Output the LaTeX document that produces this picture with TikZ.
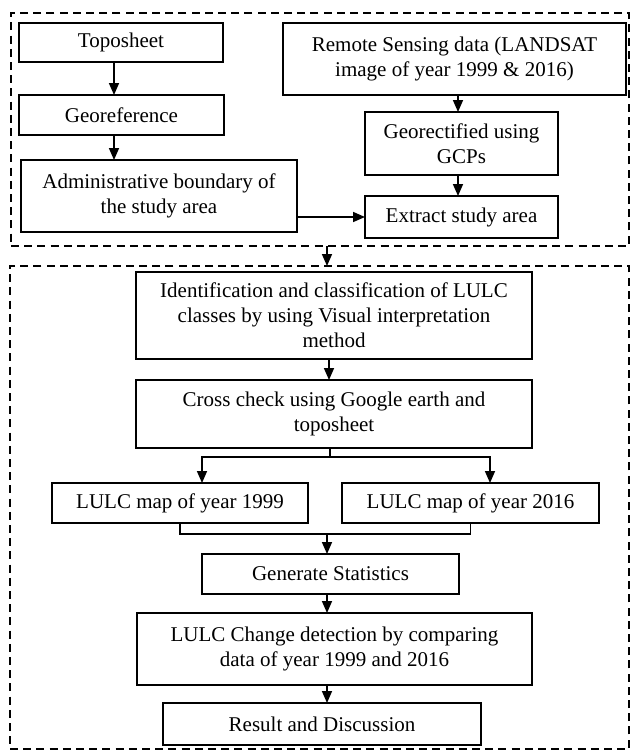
\documentclass[tikz,border=0pt]{standalone}
\usepackage{fontspec}
\setmainfont{Liberation Serif}
\usetikzlibrary{arrows.meta}
\newcommand\boxat[7][box]{\node[#1, minimum width={(#5-#3)*0.5pt}, minimum height={(#6-#4)*0.5pt}] (#2) at ({(#3+#5)/2},{(#4+#6)/2}) {#7};}
\begin{document}
\begin{tikzpicture}[x=0.5pt,y=-0.5pt,
  box/.style={draw, line width=0.8pt, inner sep=0pt, outer sep=0pt, align=center,
    font=\fontsize{10.5}{12.5}\selectfont},
  frame/.style={draw, dashed, dash pattern=on 4pt off 2.6pt, line width=0.9pt, inner sep=0pt, outer sep=0pt},
  arr/.style={line width=0.8pt, -{Triangle[width=5pt,length=6pt]}},
  ln/.style={line width=0.8pt}]
\useasboundingbox (0,0) rectangle (631,751);
% frames
\boxat[frame]{topfr}{11}{13}{629}{246}{}
\boxat[frame]{botfr}{10}{266}{629}{749}{}
% top section
\boxat{topo}{19}{23}{223}{62}{Toposheet}
\boxat{geo}{19}{95}{224}{135}{Georeference}
\boxat{adm}{21}{160}{297}{232}{Administrative boundary of\\the study area}
\boxat{rs}{283}{23}{626}{95}{Remote Sensing data (LANDSAT\\image of year 1999 \& 2016)}
\boxat{grc}{365}{112}{558}{175}{Georectified using\\GCPs}
\boxat{ext}{365}{196}{558}{238}{Extract study area}
% bottom section
\boxat{idc}{136}{272}{532}{359}{Identification and classification of LULC\\classes by using Visual interpretation\\method}
\boxat{cc}{136}{380}{532}{448}{Cross check using Google earth and\\toposheet}
\boxat{l99}{52}{483}{308}{523}{LULC map of year 1999}
\boxat{l16}{342}{483}{599}{523}{LULC map of year 2016}
\boxat{gen}{202}{554}{459}{594}{Generate Statistics}
\boxat{chg}{137}{613}{532}{685}{LULC Change detection by comparing\\data of year 1999 and 2016}
\boxat{res}{163}{703}{481}{745}{Result and Discussion}
% helper coordinates
\coordinate (xa) at (114,0);
\coordinate (xb) at (458,0);
\coordinate (xc) at (329,0);
\coordinate (xd) at (327,0);
\coordinate (x99) at (202,0);
\coordinate (x16) at (490,0);
\coordinate (sp) at (330,457);
\coordinate (jn) at (327,534);
% connectors
\draw[arr] (topo.south -| xa) -- (geo.north -| xa);
\draw[arr] (geo.south -| xa) -- (adm.north -| xa);
\draw[arr] (rs.south -| xb) -- (grc.north -| xb);
\draw[arr] (grc.south -| xb) -- (ext.north -| xb);
\draw[arr] (adm.east |- ext) -- (ext.west);
\draw[arr] (topfr.south -| xd) -- (botfr.north -| xd);
\draw[arr] (idc.south -| xc) -- (cc.north -| xc);
\draw[ln] (cc.south -| sp) -- (sp);
\draw[arr] (sp) -| (l99.north -| x99);
\draw[arr] (sp) -| (l16.north -| x16);
\draw[ln] (l99.south) |- (jn) -| (l16.south);
\draw[arr] (jn) -- (gen.north -| jn);
\draw[arr] (gen.south -| xd) -- (chg.north -| xd);
\draw[arr] (chg.south -| xd) -- (res.north -| xd);
\end{tikzpicture}
\end{document}
